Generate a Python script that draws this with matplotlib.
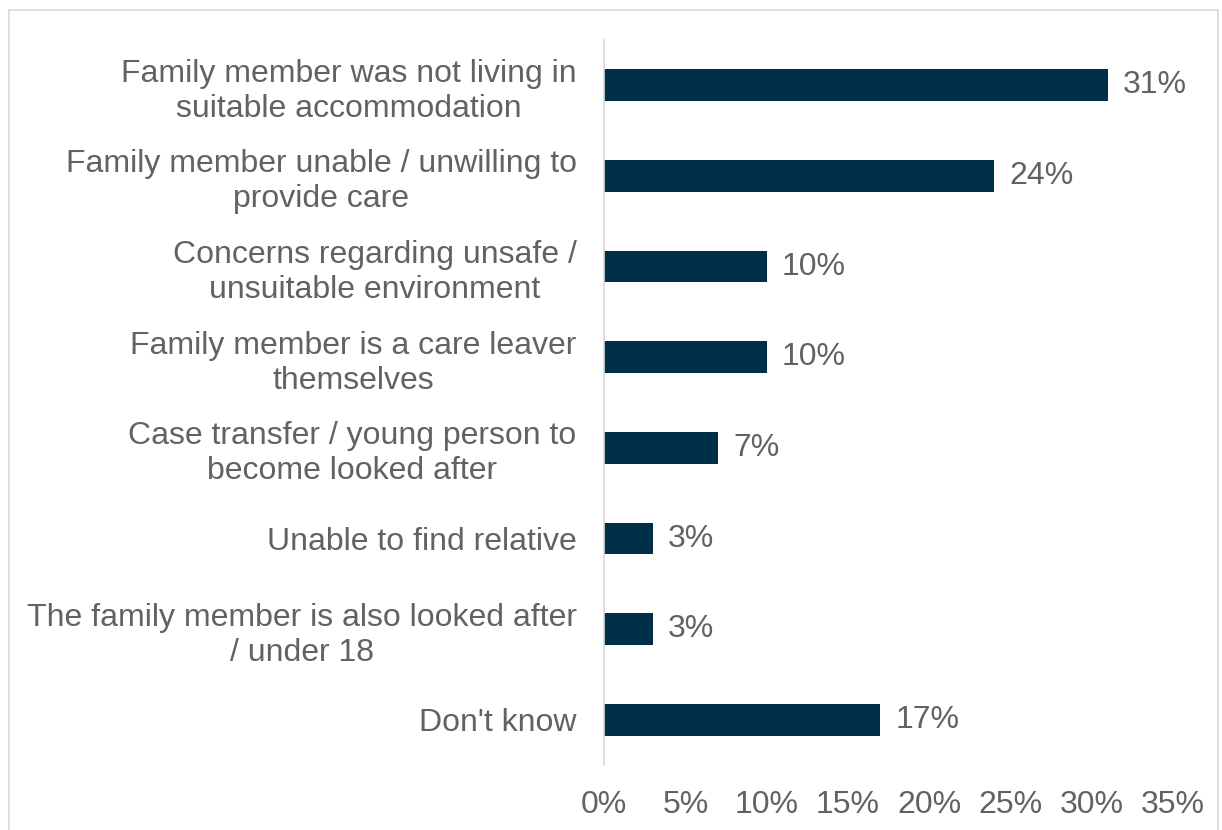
import matplotlib.pyplot as plt
from matplotlib.patches import Rectangle
from matplotlib.ticker import FuncFormatter

plt.rcParams['font.family'] = ['Liberation Sans', 'DejaVu Sans']

reasons = [
    "Family member was not living in\nsuitable accommodation",
    "Family member unable / unwilling to\nprovide care",
    "Concerns regarding unsafe /\nunsuitable environment",
    "Family member is a care leaver\nthemselves",
    "Case transfer / young person to\nbecome looked after",
    "Unable to find relative",
    "The family member is also looked after\n/ under 18",
    "Don't know",
]
shares = [31, 24, 10, 10, 7, 3, 3, 17]

bar_color = '#003049'
text_color = '#626262'
fsize = 23

fig = plt.figure(figsize=(12.22, 8.3), dpi=100)
ax = fig.add_axes([0.4945, 0.078, 0.465, 0.874])

ypos = list(range(len(reasons)))
bars = ax.barh(ypos, shares, height=0.35, color=bar_color)
ax.set_ylim(len(reasons) - 0.5, -0.5)
ax.set_xlim(0, 35)
ax.set_xticks(range(0, 36, 5))
ax.xaxis.set_major_formatter(FuncFormatter(lambda v, _: f"{v:.0f}%"))

ax.set_yticks(ypos)
ax.set_yticklabels(reasons, multialignment='center', linespacing=1.22)
ax.tick_params(axis='y', length=0, pad=20, labelsize=fsize, labelcolor=text_color)
ax.tick_params(axis='x', length=0, pad=18, labelsize=fsize, labelcolor=text_color)

for side in ['top', 'right', 'bottom']:
    ax.spines[side].set_visible(False)
ax.spines['left'].set_color('#d9d9d9')
ax.spines['left'].set_linewidth(1.2)

for b, v in zip(bars, shares):
    ax.annotate(f"{v}%", (b.get_width(), b.get_y() + b.get_height() / 2),
                xytext=(11, 0), textcoords='offset points',
                va='center', ha='left', fontsize=fsize, color=text_color)

# thin frame around the whole chart area
fig.patches.append(Rectangle((9 / 1222, -0.01), 1209 / 1222, 1 - 10 / 830 + 0.01,
                             transform=fig.transFigure, fill=False,
                             edgecolor='#d9d9d9', linewidth=1.2))

fig.savefig('out.png', dpi=100)
